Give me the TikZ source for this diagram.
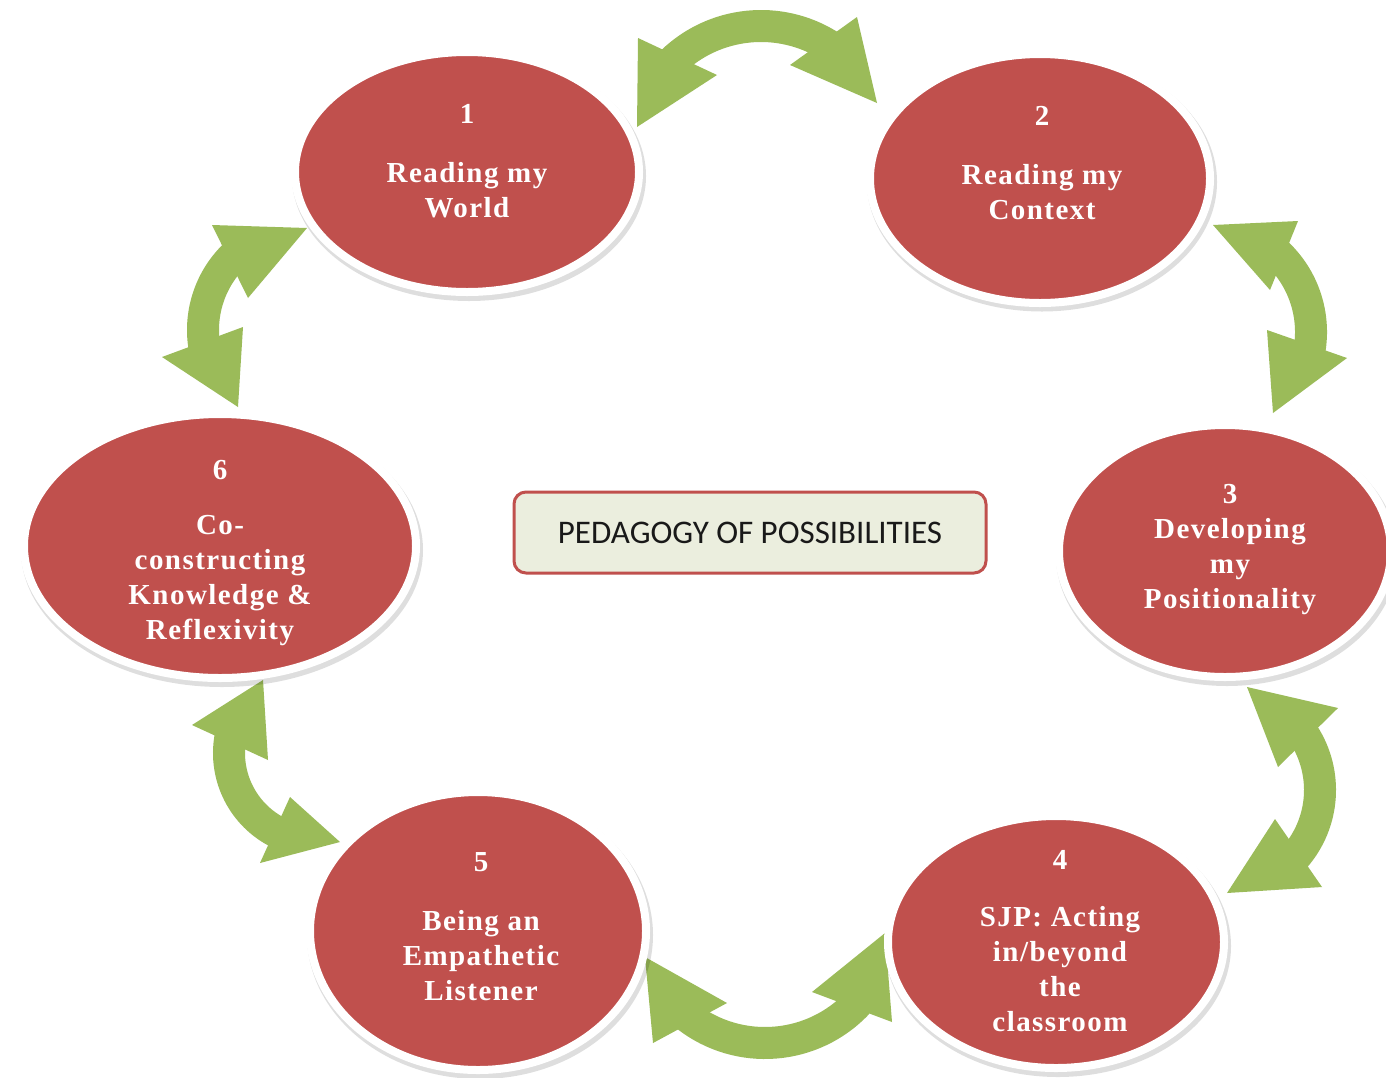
\documentclass[tikz,border=0pt]{standalone}
\usepackage{fontspec}
\setmainfont{Liberation Serif}
\newfontfamily\stagefont[LetterSpace=5]{Liberation Serif}
\newfontfamily\boxfont{Carlito}
\usetikzlibrary{shapes.geometric}
\definecolor{stagered}{HTML}{C0504D}
\definecolor{arrowgreen}{HTML}{9BBB59}
\definecolor{boxfill}{HTML}{EBEEDE}
\definecolor{boxline}{HTML}{C0504D}
\tikzset{
  stage/.style={ellipse, fill=stagered, draw=white, line width=8pt, inner sep=0pt},
  stageshadow/.style={ellipse, fill=black, opacity=0.13, inner sep=0pt},
  lbl/.style={text=white, align=center, inner sep=0pt,
    font=\stagefont\bfseries\fontsize{29}{35}\selectfont},
  shaft/.style={draw=arrowgreen, line width=32pt},
  head/.style={fill=arrowgreen},
  titlebox/.style={draw=boxline, line width=3pt, fill=boxfill, rounded corners=12pt,
    minimum width=472pt, minimum height=81pt, inner sep=0pt,
    font=\boxfont\fontsize{33}{38}\selectfont, text=black!90}
}
\begin{document}
\begin{tikzpicture}[x=1pt,y=-1pt]
\useasboundingbox (0,0) rectangle (1386,1077);
\clip (0,0) rectangle (1386,1077);
\fill[white] (0,0) rectangle (1386,1077);

% ---- curved double arrows ----
% 1 <-> 2
\draw[shaft] (761,154) ++(-58:128) arc[start angle=-58, end angle=-134, radius=128];
\fill[head] (637,127) -- (638,38) -- (717,75) -- cycle;
\fill[head] (877,103) -- (857,17) -- (790,65) -- cycle;
% 2 <-> 3
\draw[shaft] (1203,332) ++(10:108) arc[start angle=10, end angle=-47, radius=108];
\fill[head] (1213,225) -- (1298,221) -- (1270,290) -- cycle;
\fill[head] (1273,413) -- (1267,330) -- (1347,358) -- cycle;
% 3 <-> 4
\draw[shaft] (1218,790) ++(-33:102) arc[start angle=-33, end angle=41, radius=102];
\fill[head] (1247,687) -- (1338,708) -- (1278,767) -- cycle;
\fill[head] (1227,893) -- (1275,819) -- (1322,887) -- cycle;
% 4 <-> 5
\draw[shaft] (765,916) ++(128:127) arc[start angle=128, end angle=43, radius=127];
\fill[head] (645,957) -- (727,1003) -- (653,1043) -- cycle;
\fill[head] (885,933) -- (812,992) -- (892,1022) -- cycle;
% 5 <-> 6
\draw[shaft] (318,753) ++(-170:89) arc[start angle=-170, end angle=-244, radius=89];
\fill[head] (263,680) -- (192,725) -- (268,760) -- cycle;
\fill[head] (340,842) -- (290,797) -- (260,863) -- cycle;
% 6 <-> 1
\draw[shaft] (307,330) ++(-135:104) arc[start angle=-135, end angle=-190, radius=104];
\fill[head] (307,228) -- (212,225) -- (248,298) -- cycle;
\fill[head] (238,407) -- (162,357) -- (243,327) -- cycle;

% ---- shadows ----
\node[stageshadow, minimum width=354pt, minimum height=250pt] (h1) at (469,176) {};
\node[stageshadow, minimum width=350pt, minimum height=259pt] (h2) at (1042,182) {};
\node[stageshadow, minimum width=342pt, minimum height=262pt] (h3) at (1227,555) {};
\node[stageshadow, minimum width=402pt, minimum height=274pt] (h6) at (222,550) {};
\node[stageshadow, minimum width=346pt, minimum height=288pt] (h5) at (480,935) {};
\node[stageshadow, minimum width=346pt, minimum height=262pt] (h4) at (1058,946) {};

% ---- stages ----
\node[stage, minimum width=344pt, minimum height=240pt] (s1) at (467,172) {};
\node[stage, minimum width=340pt, minimum height=249pt] (s2) at (1040,178.5) {};
\node[stage, minimum width=332pt, minimum height=252pt] (s3) at (1225,551) {};
\node[stage, minimum width=392pt, minimum height=264pt] (s6) at (220,546) {};
\node[stage, minimum width=336pt, minimum height=278pt] (s5) at (478,931) {};
\node[stage, minimum width=336pt, minimum height=252pt] (s4) at (1056,942) {};

\node[lbl] (t1) at (467,161) {1\\[24pt]Reading my\\World};
\node[lbl] (t2) at (1042,163.5) {2\\[24pt]Reading my\\Context};
\node[lbl] (t3) at (1230,549.5) {3\\Developing\\my\\Positionality};
\node[lbl] (t6) at (220,553) {6\\[20pt]Co-\\constructing\\Knowledge \&\\Reflexivity};
\node[lbl] (t5) at (481,927) {5\\[24pt]Being an\\Empathetic\\Listener};
\node[lbl] (t4) at (1060,941) {4\\[22pt]SJP: Acting\\in/beyond\\the\\classroom};

% ---- title ----
\node[titlebox] (title) at (750,532.5) {PEDAGOGY OF POSSIBILITIES};
\end{tikzpicture}
\end{document}
